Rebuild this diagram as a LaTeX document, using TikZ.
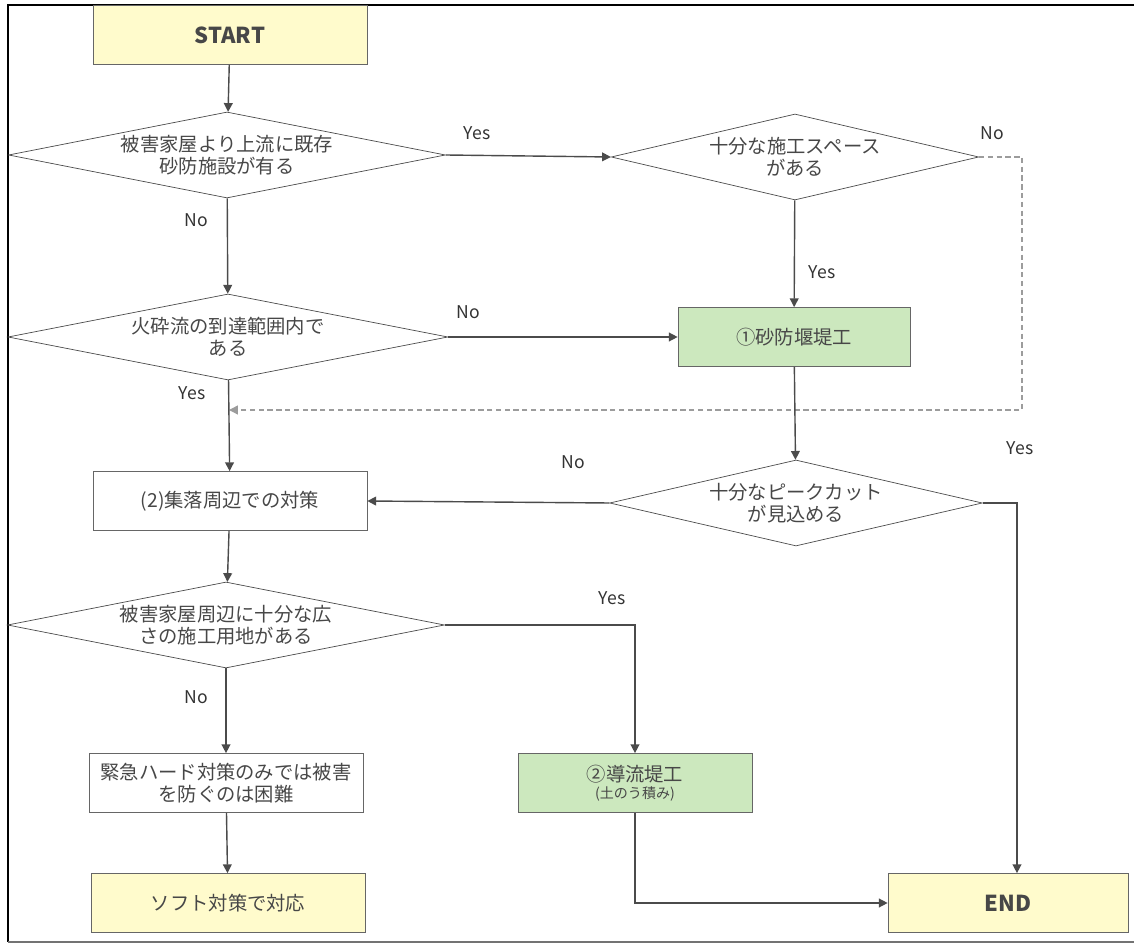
\documentclass[tikz,border=0pt]{standalone}
\usepackage{fontspec}
\setmainfont{Noto Sans CJK JP}
\usetikzlibrary{shapes.geometric,arrows.meta,positioning}

\definecolor{termyellow}{RGB}{255,251,204}
\definecolor{workgreen}{RGB}{204,232,190}
\definecolor{linegray}{RGB}{75,75,75}

\tikzset{
  box/.style={draw=linegray!85, rectangle, minimum width=5.48cm, minimum height=1.18cm,
    align=center, inner sep=1pt, text=black!72, font=\fontsize{11}{12.5}\selectfont},
  termbox/.style={box, fill=termyellow, font=\fontsize{12.5}{14}\selectfont\bfseries},
  workbox/.style={box, fill=workgreen},
  question/.style={draw=linegray, diamond, aspect=5, inner sep=0pt,
    minimum width=8.74cm, minimum height=1.72cm, align=center, text=black!72,
    font=\fontsize{11}{12.5}\selectfont},
  flow/.style={draw=linegray, line width=0.8pt, -{Triangle[length=5pt,width=5pt]}},
  loopback/.style={flow, draw=linegray!55, densely dashed},
  answer/.style={text=black!80, font=\fontsize{10}{12}\selectfont},
}

\begin{document}
\begin{tikzpicture}[x=0.02cm, y=-0.02cm]
\useasboundingbox (0,0) rectangle (1134,945);
\draw [line width=1.4pt] (1134,5) -- (8,5) -- (8,942);
\draw [line width=1.4pt, black!55] (8,942) -- (1134,942);

% left column
\node [termbox] (start) at (230,35) {START};
\node [question] (exist) at (227,155) {被害家屋より上流に既存\\砂防施設が有る};
\node [question, minimum width=8.8cm] (reach) at (228,337) {火砕流の到達範囲内で\\ある};
\node [box] (local) at (230,501) {(2)集落周辺での対策};
\node [question] (site) at (226,625) {被害家屋周辺に十分な広\\さの施工用地がある};
\node [box] (hard) at (226,783) {緊急ハード対策のみでは被害\\を防ぐのは困難};
\node [termbox, font=\fontsize{11}{12.5}\selectfont] (soft) at (228,903) {ソフト対策で対応};

% right column
\node [question, minimum width=7.28cm] (space) at (795,157) {十分な施工スペース\\がある};
\node [workbox, minimum width=4.64cm] (dam) at (794,337) {①砂防堰堤工};
\node [question, minimum width=7.16cm] (peak) at (796,503) {十分なピークカット\\が見込める};
\node [workbox, minimum width=4.68cm] (guide) at (635,783)
  {②導流堤工\\[-3pt]{\fontsize{8}{9}\selectfont (土のう積み)}};
\node [termbox, minimum width=4.8cm] (end) at (1008,903) {END};

\coordinate (merge) at (229,410);

\draw [flow] (start) -- (exist);
\draw [flow] (exist.east) -- (space.west);
\node [answer] (yes1) at (477,133) {Yes};
\draw [flow] (exist) -- (reach);
\node [answer] (no1) at (196,220) {No};
\draw [flow] (space) -- (dam);
\node [answer] (yes2) at (822,272) {Yes};
\node [answer] (no2) at (992,133) {No};
\draw [loopback] (space.east) -- ++(43,0) |- (merge);
\draw [flow] (reach.east) -- (dam.west);
\node [answer] (no3) at (468,312) {No};
\draw [flow] (reach) -- (local);
\node [answer] (yes3) at (192,393) {Yes};
\draw [flow] (dam) -- (peak);
\draw [flow] (peak.west) -- (local.east);
\node [answer] (no4) at (573,462) {No};
\draw [flow] (peak.east) -| ([xshift=0.18cm]end.north);
\node [answer] (yes4) at (1020,448) {Yes};
\draw [flow] (local) -- (site);
\draw [flow] (site.east) -| (guide.north);
\node [answer] (yes5) at (612,598) {Yes};
\draw [flow] (site) -- (hard);
\node [answer] (no5) at (196,697) {No};
\draw [flow] (hard) -- (soft);
\draw [flow] (guide.south) |- (end.west);
\end{tikzpicture}
\end{document}
